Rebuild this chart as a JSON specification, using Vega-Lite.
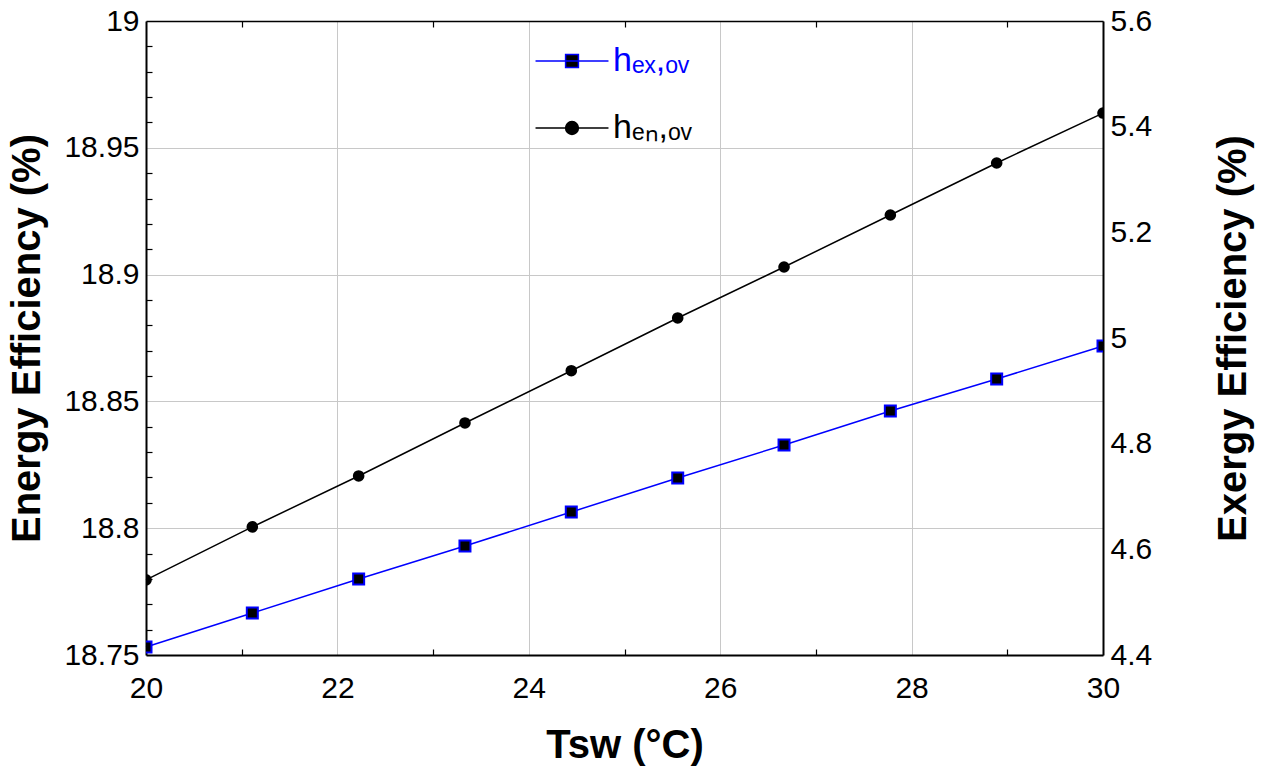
{
  "$schema": "https://vega.github.io/schema/vega-lite/v6.json",
  "width": 957,
  "height": 634,
  "autosize": {"type": "none"},
  "padding": {"left": 146, "top": 21, "right": 164, "bottom": 122},
  "background": "white",
  "config": {
    "view": {"stroke": null},
    "font": "Liberation Sans",
    "axis": {
      "labelFont": "Liberation Sans",
      "labelFontSize": 30,
      "labelColor": "black",
      "titleFont": "Liberation Sans",
      "titleFontSize": 40,
      "titleFontWeight": "bold",
      "titleColor": "black",
      "domainColor": "black",
      "domainWidth": 2,
      "gridColor": "#c8c8c8",
      "gridWidth": 1,
      "labelOverlap": false,
      "labelFlush": false,
      "tickWidth": 1.2,
      "tickColor": "black"
    }
  },
  "data": {
    "values": [
      {"T": 20.0, "s": "en,ov", "v": 18.7796},
      {"T": 21.111, "s": "en,ov", "v": 18.8005},
      {"T": 22.222, "s": "en,ov", "v": 18.8206},
      {"T": 23.333, "s": "en,ov", "v": 18.8415},
      {"T": 24.444, "s": "en,ov", "v": 18.8621},
      {"T": 25.556, "s": "en,ov", "v": 18.8829},
      {"T": 26.667, "s": "en,ov", "v": 18.903},
      {"T": 27.778, "s": "en,ov", "v": 18.9235},
      {"T": 28.889, "s": "en,ov", "v": 18.944},
      {"T": 30.0, "s": "en,ov", "v": 18.9637},
      {"T": 20.0, "s": "ex,ov", "v": 4.4151},
      {"T": 21.111, "s": "ex,ov", "v": 4.4795},
      {"T": 22.222, "s": "ex,ov", "v": 4.5438},
      {"T": 23.333, "s": "ex,ov", "v": 4.6063},
      {"T": 24.444, "s": "ex,ov", "v": 4.6707},
      {"T": 25.556, "s": "ex,ov", "v": 4.735},
      {"T": 26.667, "s": "ex,ov", "v": 4.7975},
      {"T": 27.778, "s": "ex,ov", "v": 4.8618},
      {"T": 28.889, "s": "ex,ov", "v": 4.9224},
      {"T": 30.0, "s": "ex,ov", "v": 4.9849}
    ]
  },
  "layer": [
    {
      "transform": [{"filter": "datum.s == 'en,ov'"}],
      "encoding": {
        "x": {
          "field": "T",
          "type": "quantitative",
          "scale": {"domain": [20, 30], "nice": false, "zero": false},
          "axis": {
            "orient": "bottom",
            "values": [20, 21, 22, 23, 24, 25, 26, 27, 28, 29, 30],
            "title": "Tsw (°C)",
            "labelExpr": "datum.value % 2 == 0 ? datum.label : ''",
            "tickSize": -6,
            "labelPadding": 24,
            "tickColor": {"condition": {"test": "datum.value % 2 == 0", "value": "transparent"}, "value": "black"},
            "grid": true,
            "gridColor": {"condition": {"test": "datum.value % 2 == 0", "value": "#c8c8c8"}, "value": "transparent"},
            "titlePadding": 22
          }
        },
        "y": {
          "field": "v",
          "type": "quantitative",
          "scale": {"domain": [18.75, 19], "nice": false, "zero": false},
          "axis": {
            "orient": "left",
            "values": [18.75, 18.76, 18.77, 18.78, 18.79, 18.8, 18.81, 18.82, 18.83, 18.84, 18.85, 18.86, 18.87, 18.88, 18.89, 18.9, 18.91, 18.92, 18.93, 18.94, 18.95, 18.96, 18.97, 18.98, 18.99, 19],
            "format": ".2~f",
            "labelExpr": "abs(datum.value*20 - round(datum.value*20)) < 0.001 ? datum.label : ''",
            "tickSize": -6,
            "labelPadding": 13,
            "tickColor": {"condition": {"test": "abs(datum.value*20 - round(datum.value*20)) < 0.001", "value": "transparent"}, "value": "black"},
            "grid": true,
            "gridColor": {"condition": {"test": "abs(datum.value*20 - round(datum.value*20)) < 0.001", "value": "#c8c8c8"}, "value": "transparent"},
            "title": "Energy Efficiency (%)",
            "titlePadding": 16
          }
        }
      },
      "layer": [
        {
          "mark": {"type": "line", "strokeWidth": 1.5},
          "encoding": {
            "color": {
              "field": "s",
              "type": "nominal",
              "scale": {"domain": ["ex,ov", "en,ov"], "range": ["#0000ff", "#000000"]},
              "legend": {
                "orient": "none",
                "legendX": 393,
                "legendY": 7,
                "title": null,
                "padding": 0,
                "symbolSize": 4096,
                "symbolStrokeWidth": 1.5,
                "rowPadding": 17,
                "labelOffset": 8,
                "labelFontSize": 34,
                "labelFont": "Liberation Sans",
                "labelBaseline": "middle",
                "labelLimit": 0,
                "labelExpr": "datum.value == 'ex,ov' ? 'hₑₓ,ₒᵥ' : 'hₑₙ,ₒᵥ'",
                "encode": {
                  "symbols": {
                    "update": {
                      "shape": {"signal": "datum.value == 'ex,ov' ? 'M-1.14,0H1.14M-0.2,-0.2H0.2V0.2H-0.2Z' : 'M-1.14,0H1.14M-0.2,0A0.2,0.2 0 1,0 0.2,0A0.2,0.2 0 1,0 -0.2,0Z'"},
                      "fill": {"value": "black"},
                      "stroke": {"signal": "datum.value == 'ex,ov' ? '#0000ff' : '#000000'"},
                      "strokeWidth": {"value": 1.5}
                    }
                  },
                  "labels": {
                    "update": {
                      "fill": {"signal": "datum.value == 'ex,ov' ? '#0000ff' : '#000000'"}
                    }
                  }
                }
              }
            }
          }
        },
        {
          "mark": {"type": "point", "shape": "circle", "filled": true, "size": 135, "color": "black", "opacity": 1, "clip": true}
        }
      ]
    },
    {
      "transform": [{"filter": "datum.s == 'ex,ov'"}],
      "encoding": {
        "x": {
          "field": "T",
          "type": "quantitative",
          "scale": {"domain": [20, 30], "nice": false, "zero": false},
          "axis": {
            "orient": "top",
            "values": [21, 23, 25, 27, 29],
            "labels": false,
            "grid": false,
            "tickSize": -6,
            "title": null,
            "domainWidth": 1.5
          }
        },
        "y": {
          "field": "v",
          "type": "quantitative",
          "scale": {"domain": [4.4, 5.6], "nice": false, "zero": false},
          "axis": {
            "orient": "right",
            "values": [4.4, 4.6, 4.8, 5, 5.2, 5.4, 5.6],
            "format": ".1~f",
            "ticks": false,
            "tickSize": 0,
            "labelPadding": 7,
            "labelAlign": "left",
            "labelBaseline": "middle",
            "grid": false,
            "title": "Exergy Efficiency (%)",
            "titleAngle": 270,
            "titleBaseline": "top",
            "titlePadding": 62
          }
        }
      },
      "layer": [
        {
          "mark": {"type": "line", "strokeWidth": 1.5},
          "encoding": {
            "color": {
              "field": "s",
              "type": "nominal",
              "scale": {"domain": ["ex,ov", "en,ov"], "range": ["#0000ff", "#000000"]}
            }
          }
        },
        {
          "mark": {"type": "point", "shape": "square", "filled": true, "size": 121, "fill": "black", "stroke": "#0000ff", "strokeWidth": 2, "opacity": 1, "clip": true}
        }
      ]
    }
  ],
  "resolve": {"scale": {"y": "independent"}, "axis": {"x": "independent"}}
}
